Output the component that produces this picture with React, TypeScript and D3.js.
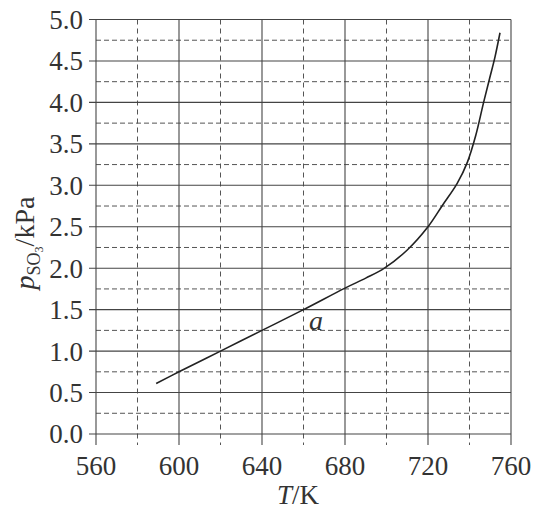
import React from "react";
import * as d3 from "d3";

// axis values
const xMajor = [560, 600, 640, 680, 720, 760];
const xMinor = [580, 620, 660, 700, 740];
const yMajor = [0, 0.5, 1.0, 1.5, 2.0, 2.5, 3.0, 3.5, 4.0, 4.5, 5.0];
const yMinor = [0.25, 0.75, 1.25, 1.75, 2.25, 2.75, 3.25, 3.75, 4.25, 4.75];

// curve a
const curveT = [589, 600, 620, 640, 660, 680, 690, 699, 710, 720, 727, 734, 739, 743, 746.8, 749.8, 752.3, 754.7];
const curveP = [0.61, 0.75, 1.0, 1.25, 1.5, 1.76, 1.88, 2.0, 2.22, 2.5, 2.76, 3.02, 3.28, 3.6, 4.0, 4.3, 4.55, 4.84];

const W = 536;
const H = 509;
const serif = "'Liberation Serif', 'DejaVu Serif', serif";
const ink = "#333";

export default function App() {
    const x = d3.scaleLinear().domain([560, 760]).range([96, 511]);
    const y = d3.scaleLinear().domain([0, 5]).range([434, 19.5]);
    const fmt = d3.format(".1f");

    const pts = curveT.map((t, i) => [t, curveP[i]] as [number, number]);
    const line = d3.line<[number, number]>()
        .x(d => x(d[0]))
        .y(d => y(d[1]))
        .curve(d3.curveCatmullRom.alpha(0.5));

    const bottom = y(0) + 11;

    return (
        <svg width={W} height={H} style={{ position: "absolute", left: 0, top: 0, background: "#fff" }}>
            {/* minor grid, dashed */}
            {yMinor.map(v => (
                <line key={"hm" + v} x1={x(560)} x2={x(760)} y1={y(v)} y2={y(v)}
                    stroke="#555" strokeWidth={1} strokeDasharray="5,3" />
            ))}
            {xMinor.map(v => (
                <line key={"vm" + v} x1={x(v)} x2={x(v)} y1={y(5)} y2={bottom}
                    stroke="#555" strokeWidth={1} strokeDasharray="5,4" />
            ))}
            {/* major grid, solid, with ticks sticking out */}
            {yMajor.map(v => (
                <line key={"hM" + v} x1={x(560) - 7} x2={x(760)} y1={y(v)} y2={y(v)}
                    stroke="#444" strokeWidth={1.1} />
            ))}
            {xMajor.map(v => (
                <line key={"vM" + v} x1={x(v)} x2={x(v)} y1={y(5)} y2={bottom}
                    stroke="#444" strokeWidth={1.1} />
            ))}

            <path d={line(pts) || ""} fill="none" stroke="#222" strokeWidth={1.6} />

            {/* tick labels */}
            {yMajor.map(v => (
                <text key={"yl" + v} x={x(560) - 13} y={y(v)} dy="0.35em" textAnchor="end"
                    fontFamily={serif} fontSize={27} fill={ink}>{fmt(v)}</text>
            ))}
            {xMajor.map(v => (
                <text key={"xl" + v} x={x(v)} y={475} textAnchor="middle"
                    fontFamily={serif} fontSize={27} fill={ink}>{v}</text>
            ))}

            {/* axis titles */}
            <text x={298} y={504} textAnchor="middle" fontFamily={serif} fontSize={27} fill={ink}>
                <tspan fontStyle="italic">T</tspan>/K
            </text>
            <text transform="translate(34,243) rotate(-90)" textAnchor="middle"
                fontFamily={serif} fontSize={28} fill={ink}>
                <tspan fontStyle="italic">p</tspan>
                <tspan fontSize={18} dy={6}>SO</tspan>
                <tspan fontSize={12} dy={3}>3</tspan>
                <tspan dy={-9}>/kPa</tspan>
            </text>

            {/* curve label */}
            <text x={309} y={330} fontFamily={serif} fontStyle="italic" fontSize={28} fill={ink}>a</text>
        </svg>
    );
}
